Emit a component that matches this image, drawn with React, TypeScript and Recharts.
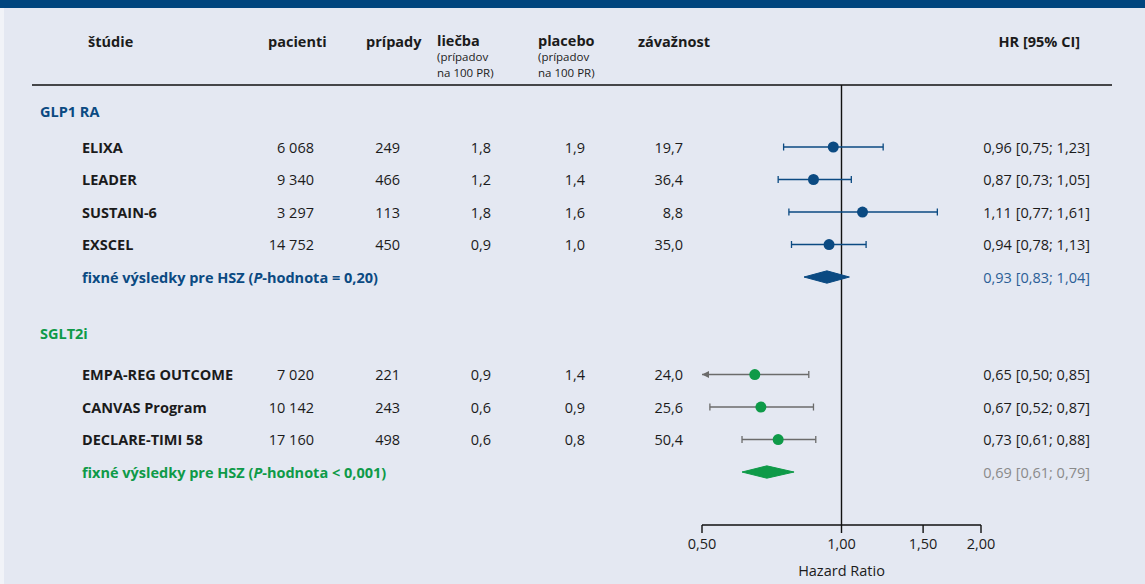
import { Customized, ReferenceLine, Scatter, ScatterChart, XAxis, YAxis } from "recharts";

const studyNames = [
  "ELIXA",
  "LEADER",
  "SUSTAIN-6",
  "EXSCEL",
  "EMPA-REG OUTCOME",
  "CANVAS Program",
  "DECLARE-TIMI 58",
];
const studyGroup = [0, 0, 0, 0, 1, 1, 1];
const patients = [6068, 9340, 3297, 14752, 7020, 10142, 17160];
const events = [249, 466, 113, 450, 221, 243, 498];
const treatmentRate = [1.8, 1.2, 1.8, 0.9, 0.9, 0.6, 0.6];
const placeboRate = [1.9, 1.4, 1.6, 1.0, 1.4, 0.9, 0.8];
const weight = [19.7, 36.4, 8.8, 35.0, 24.0, 25.6, 50.4];
const hazardRatio = [0.96, 0.87, 1.11, 0.94, 0.65, 0.67, 0.73];
const ciLow = [0.75, 0.73, 0.77, 0.78, 0.5, 0.52, 0.61];
const ciHigh = [1.23, 1.05, 1.61, 1.13, 0.85, 0.87, 0.88];

const groupNames = ["GLP1 RA", "SGLT2i"];
const pooledHR = [0.93, 0.69];
const pooledLow = [0.83, 0.61];
const pooledHigh = [1.04, 0.79];
const pooledP = ["= 0,20", "< 0,001"];

const xTicks = [0.5, 1, 1.5, 2];
const X_MIN = 0.5;
const X_MAX = 2;

// row layout (in row units of the hidden y axis)
const groupHeaderRow = [-0.08, 6.75];
const groupFirstRow = [1, 8];

const BLUE = "#0b4a82";
const BLUE_TEXT = "#2b5e96";
const GREEN = "#0e9a48";
const GREY = "#6b6b6b";
const INK = "#1b1b1b";
const BG = "#e4e8f2";
const FONT = "'Open Sans', sans-serif";
const FS = 14.5;

const dec = (v: number, d: number) => v.toFixed(d).replace(".", ",");
const thousands = (n: number) => String(n).replace(/\B(?=(\d{3})+(?!\d))/g, "\u00a0");
const hrText = (hr: number, lo: number, hi: number) =>
  `${dec(hr, 2)} [${dec(lo, 2)}; ${dec(hi, 2)}]`;

// build rows
const studyRows = studyNames.map((name, i) => {
  const g = studyGroup[i];
  const k = studyGroup.slice(0, i).filter((s) => s === g).length;
  return {
    i,
    name,
    group: g,
    y: groupFirstRow[g] + k,
    hr: hazardRatio[i],
    lo: ciLow[i],
    hi: ciHigh[i],
  };
});

const pooledRows = groupNames.map((name, g) => {
  const n = studyGroup.filter((s) => s === g).length;
  return { g, name, y: groupFirstRow[g] + n, hr: pooledHR[g], lo: pooledLow[g], hi: pooledHigh[g] };
});

const DIAMOND_HALF = 0.19;

function Headers() {
  const bold = { fontWeight: 700, fontSize: FS, fill: INK };
  const sub = { fontSize: 11.5, fill: INK };
  return (
    <g>
      <text x={88} y={41} dominantBaseline="central" {...bold}>štúdie</text>
      <text x={268} y={41} dominantBaseline="central" {...bold}>pacienti</text>
      <text x={366} y={41} dominantBaseline="central" {...bold}>prípady</text>
      {[437, 538].map((x, k) => (
        <g key={x}>
          <text x={x} y={40} dominantBaseline="central" {...bold}>{k === 0 ? "liečba" : "placebo"}</text>
          <text x={x} y={56.5} dominantBaseline="central" {...sub}>(prípadov</text>
          <text x={x} y={72} dominantBaseline="central" {...sub}>na 100 PR)</text>
        </g>
      ))}
      <text x={638} y={41} dominantBaseline="central" {...bold}>závažnost</text>
      <text x={1080} y={41} dominantBaseline="central" textAnchor="end" {...bold}>HR [95% CI]</text>
      <line x1={32} x2={1112} y1={85} y2={85} stroke="#111" strokeWidth={1.4} />
    </g>
  );
}

function StudyText(props: any) {
  const { cy, payload } = props;
  const i = payload.i;
  const t = { fontSize: FS, fill: INK, dominantBaseline: "central" as const };
  return (
    <g>
      <text x={82} y={cy} {...t} fontWeight={700}>{payload.name}</text>
      <text x={314} y={cy} {...t} textAnchor="end">{thousands(patients[i])}</text>
      <text x={400} y={cy} {...t} textAnchor="end">{events[i]}</text>
      <text x={491} y={cy} {...t} textAnchor="end">{dec(treatmentRate[i], 1)}</text>
      <text x={585} y={cy} {...t} textAnchor="end">{dec(placeboRate[i], 1)}</text>
      <text x={683} y={cy} {...t} textAnchor="end">{dec(weight[i], 1)}</text>
      <text x={1090} y={cy} {...t} textAnchor="end">{hrText(payload.hr, payload.lo, payload.hi)}</text>
    </g>
  );
}

function PooledText(props: any) {
  const { cy, payload } = props;
  const color = payload.g === 0 ? BLUE : GREEN;
  const hrColor = payload.g === 0 ? BLUE_TEXT : "#8a8a8a";
  return (
    <g>
      <text x={82} y={cy} fontSize={FS} fontWeight={700} fill={color} dominantBaseline="central">
        fixné výsledky pre HSZ (<tspan fontStyle="italic">P</tspan>-hodnota {pooledP[payload.g]})
      </text>
      <text x={1090} y={cy} fontSize={FS} fill={hrColor} textAnchor="end" dominantBaseline="central">
        {hrText(payload.hr, payload.lo, payload.hi)}
      </text>
    </g>
  );
}

function GroupText(props: any) {
  const { cy, payload } = props;
  return (
    <text x={40} y={cy} fontSize={FS} fontWeight={700} fill={payload.g === 0 ? BLUE : GREEN} dominantBaseline="central">
      {payload.name}
    </text>
  );
}

function WhiskerEnd(props: any) {
  const { cx, cy, payload, stroke } = props;
  if (payload.end === "lo" && payload.x <= X_MIN) {
    return <polygon points={`${cx},${cy} ${cx + 7},${cy - 3.5} ${cx + 7},${cy + 3.5}`} fill={stroke} />;
  }
  return <line x1={cx} x2={cx} y1={cy - 3.5} y2={cy + 3.5} stroke={stroke} strokeWidth={1.3} />;
}

export default function App() {
  const groupRows = groupNames.map((name, g) => ({ x: 1, y: groupHeaderRow[g], g, name }));
  return (
    <div
      style={{
        position: "absolute",
        left: 0,
        top: 0,
        width: 1145,
        height: 584,
        background: BG,
        fontFamily: FONT,
      }}
    >
      <div style={{ position: "absolute", left: 0, top: 0, width: 1145, height: 8, background: "#00457e" }} />
      <div style={{ position: "absolute", left: 0, top: 8, width: 4, height: 576, background: "#f1f3f8" }} />
      <ScatterChart
        width={1145}
        height={584}
        margin={{ top: 85, right: 164, bottom: 5, left: 702 }}
        style={{ position: "absolute", left: 0, top: 0 }}
      >
        <XAxis
          dataKey="x"
          type="number"
          scale="log"
          domain={[X_MIN, X_MAX]}
          ticks={xTicks}
          tickFormatter={(v) => dec(v, 2)}
          height={54}
          tickSize={8}
          tickMargin={6}
          stroke="#111"
          axisLine={{ stroke: "#111", strokeWidth: 1.4 }}
          tickLine={{ stroke: "#111", strokeWidth: 1.4 }}
          tick={{ fill: INK, fontSize: FS }}
          label={{ value: "Hazard Ratio", position: "insideBottom", offset: 3, fill: INK, fontSize: FS }}
        />
        <YAxis dataKey="y" type="number" domain={[-0.908, 12.63]} reversed hide />
        <ReferenceLine x={1} stroke="#111" strokeWidth={1.4} ifOverflow="extendDomain" />
        <Customized component={<Headers />} />

        <Scatter data={groupRows} shape={<GroupText />} isAnimationActive={false} />
        <Scatter data={studyRows.map((r) => ({ ...r, x: 1 }))} shape={<StudyText />} isAnimationActive={false} />
        <Scatter data={pooledRows.map((r) => ({ ...r, x: 1 }))} shape={<PooledText />} isAnimationActive={false} />

        {studyRows.map((r) => {
          const color = r.group === 0 ? BLUE : GREY;
          return (
            <Scatter
              key={`w-${r.name}`}
              data={[
                { x: r.lo, y: r.y, end: "lo" },
                { x: r.hi, y: r.y, end: "hi" },
              ]}
              line={{ stroke: color, strokeWidth: 1.3 }}
              lineType="joint"
              shape={<WhiskerEnd stroke={color} />}
              isAnimationActive={false}
            />
          );
        })}

        {pooledRows.map((r) => {
          const color = r.g === 0 ? BLUE : GREEN;
          return (
            <Scatter
              key={`d-${r.name}`}
              data={[
                { x: r.lo, y: r.y },
                { x: r.hr, y: r.y - DIAMOND_HALF },
                { x: r.hi, y: r.y },
                { x: r.hr, y: r.y + DIAMOND_HALF },
                { x: r.lo, y: r.y },
              ]}
              line={{ stroke: color, fill: color, strokeWidth: 1 }}
              lineType="joint"
              shape={() => <g />}
              isAnimationActive={false}
            />
          );
        })}

        {[0, 1].map((g) => (
          <Scatter
            key={`p-${g}`}
            data={studyRows.filter((r) => r.group === g).map((r) => ({ x: r.hr, y: r.y }))}
            shape={(p: any) => <circle cx={p.cx} cy={p.cy} r={5.5} fill={g === 0 ? BLUE : GREEN} />}
            isAnimationActive={false}
          />
        ))}
      </ScatterChart>
    </div>
  );
}
